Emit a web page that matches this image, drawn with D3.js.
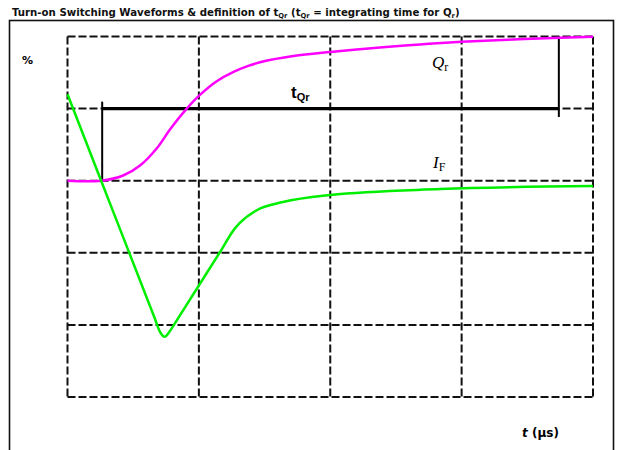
<!DOCTYPE html>
<html>
<head>
<meta charset="utf-8">
<script src="https://cdn.jsdelivr.net/npm/d3@7"></script>
<style>
  body { margin: 0; background: #fff; }
  svg { display: block; }
</style>
</head>
<body>
<div id="chart"></div>
<script>
// grid ticks (x in arbitrary time units, y in %)
const xTicks = [0, 25, 50, 75, 100];
const yTicks = [100, 50, 0, -50, -100, -150];

// I_F waveform (green)
const ifX = [0, 6.4, 16.6, 17.6, 18.5, 19.4, 20.4, 29.0, 31.9, 32.8, 36.1, 41.0, 50.0, 70.9, 100];
const ifY = [59.9, 0, -95.4, -104.8, -108.2, -104.8, -99.1, -49.6, -32.9, -29.3, -20.3, -14.8, -9.9, -5.8, -3.7];

// Q_r waveform (magenta)
const qrX = [0, 6.4, 10.6, 13.8, 17.0, 19.5, 22.4, 25.2, 28.4, 31.6, 34.4, 37.0, 43.0, 50.0, 60.0, 67.1, 75.0, 87.0, 100];
const qrY = [0, 0, 3.6, 10.5, 22.5, 35.5, 48.8, 59.5, 69.0, 75.5, 79.6, 82.5, 86.5, 89.3, 92.6, 94.5, 96.3, 98.3, 99.9];

// tQr bracket
const tqrStart = 6.6, tqrEnd = 93.5, tqrLevel = 50;

const width = 621, height = 450;

const svg = d3.select("#chart").append("svg")
  .attr("width", width)
  .attr("height", height);

// outer frame
svg.append("rect")
  .attr("x", 9.5).attr("y", 20.5)
  .attr("width", 604).attr("height", 440)
  .attr("fill", "none")
  .attr("stroke", "#111")
  .attr("stroke-width", 1.6);

// title
const title = svg.append("text")
  .attr("x", 12).attr("y", 16)
  .style("font-family", "DejaVu Sans")
  .style("font-weight", "bold")
  .style("font-size", "10.2px")
  .attr("fill", "#111");
title.append("tspan").text("Turn-on Switching Waveforms & definition of t");
title.append("tspan").attr("dy", 2).style("font-size", "6.8px").text("Qr");
title.append("tspan").attr("dy", -2).text(" (t");
title.append("tspan").attr("dy", 2).style("font-size", "6.8px").text("Qr");
title.append("tspan").attr("dy", -2).text(" = integrating time for Q");
title.append("tspan").attr("dy", 2).style("font-size", "6.8px").text("r");
title.append("tspan").attr("dy", -2).text(")");

const x = d3.scaleLinear().domain([0, 100]).range([67.5, 593]);
const y = d3.scaleLinear().domain([-150, 100]).range([397, 36.5]);

// dashed grid
const grid = svg.append("g")
  .attr("stroke", "#111")
  .attr("stroke-width", 2)
  .attr("stroke-dasharray", "8,3");

grid.selectAll(".h").data(yTicks).enter().append("line")
  .attr("x1", x(0)).attr("x2", x(100))
  .attr("y1", d => y(d)).attr("y2", d => y(d));

grid.selectAll(".v").data(xTicks).enter().append("line")
  .attr("y1", y(100)).attr("y2", y(-150))
  .attr("x1", d => x(d)).attr("x2", d => x(d));

// tQr bracket
svg.append("line")
  .attr("x1", x(tqrStart)).attr("x2", x(tqrEnd))
  .attr("y1", y(tqrLevel)).attr("y2", y(tqrLevel))
  .attr("stroke", "#000").attr("stroke-width", 3.2);
svg.append("line")
  .attr("x1", x(tqrStart)).attr("x2", x(tqrStart))
  .attr("y1", y(0)).attr("y2", y(54.8))
  .attr("stroke", "#000").attr("stroke-width", 2);
svg.append("line")
  .attr("x1", x(tqrEnd)).attr("x2", x(tqrEnd))
  .attr("y1", y(100)).attr("y2", y(44.2))
  .attr("stroke", "#000").attr("stroke-width", 2);

const ifLine = d3.line()
  .x(d => x(d[0]))
  .y(d => y(d[1]))
  .curve(d3.curveMonotoneX);

const qrLine = d3.line()
  .x(d => x(d[0]))
  .y(d => y(d[1]))
  .curve(d3.curveCatmullRom.alpha(0.5));

svg.append("path")
  .datum(qrX.map((v, i) => [v, qrY[i]]))
  .attr("d", qrLine)
  .attr("fill", "none")
  .attr("stroke", "#ff00ff")
  .attr("stroke-width", 2.5);

svg.append("path")
  .datum(ifX.map((v, i) => [v, ifY[i]]))
  .attr("d", ifLine)
  .attr("fill", "none")
  .attr("stroke", "#00ee00")
  .attr("stroke-width", 2.5);

// labels
svg.append("text")
  .attr("x", 22).attr("y", 64)
  .style("font-family", "DejaVu Sans")
  .style("font-weight", "bold")
  .style("font-size", "11px")
  .text("%");

const tq = svg.append("text")
  .attr("x", 291).attr("y", 98)
  .style("font-family", "Liberation Sans")
  .style("font-weight", "bold")
  .style("font-size", "17px");
tq.append("tspan").text("t");
tq.append("tspan").attr("dy", 3).style("font-size", "11px").text("Qr");

const qr = svg.append("text")
  .attr("x", 432).attr("y", 68)
  .style("font-family", "Liberation Serif")
  .style("font-size", "17px");
qr.append("tspan").style("font-style", "italic").text("Q");
qr.append("tspan").attr("dy", 3).style("font-size", "12px").text("r");

const iff = svg.append("text")
  .attr("x", 433).attr("y", 168)
  .style("font-family", "Liberation Serif")
  .style("font-size", "17px");
iff.append("tspan").style("font-style", "italic").text("I");
iff.append("tspan").attr("dy", 3).style("font-size", "12px").text("F");

const tl = svg.append("text")
  .attr("x", 522).attr("y", 437)
  .style("font-family", "DejaVu Sans")
  .style("font-weight", "bold")
  .style("font-size", "12px");
tl.append("tspan").style("font-style", "italic").text("t");
tl.append("tspan").text(" (µs)");
</script>
</body>
</html>
